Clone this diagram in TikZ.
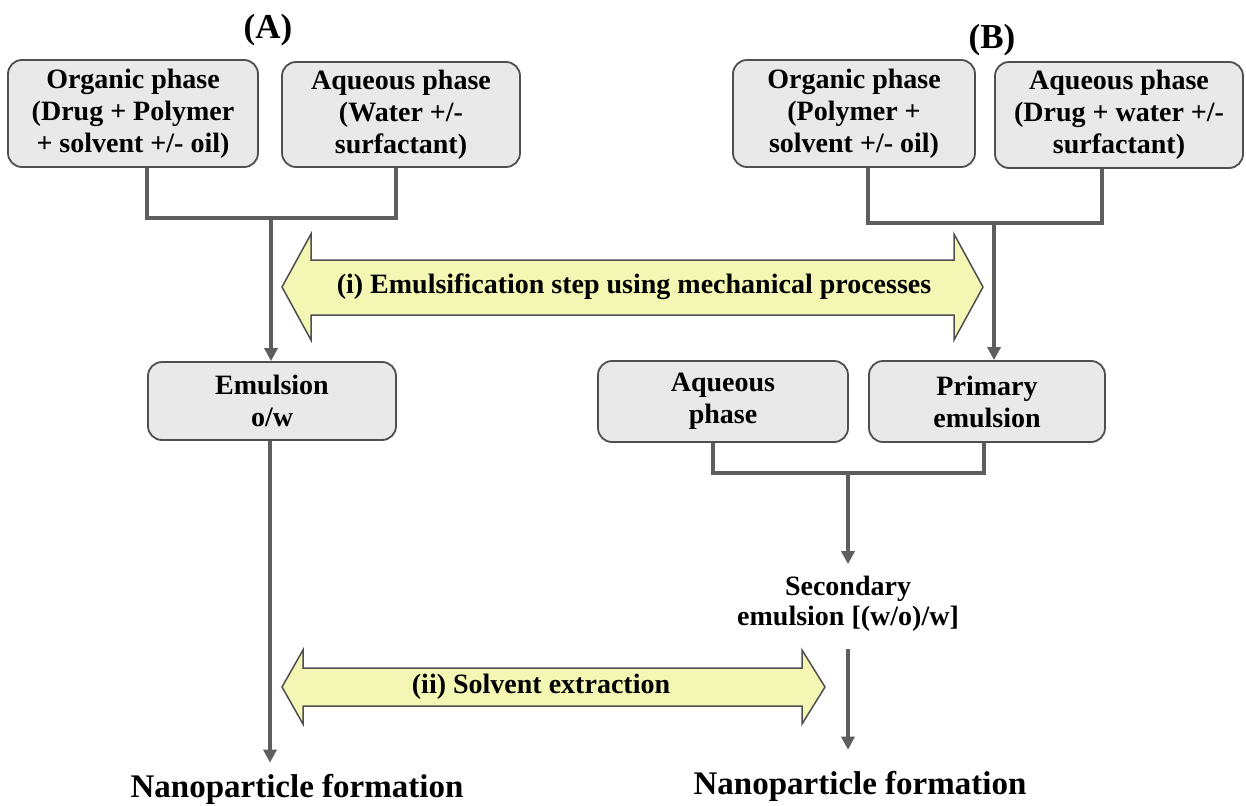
\documentclass[tikz,border=0pt]{standalone}
\usepackage{fontspec}
\setmainfont{Liberation Serif}
\usetikzlibrary{arrows.meta}
\definecolor{boxfill}{HTML}{E9E9E9}
\definecolor{boxline}{HTML}{4F4F4F}
\definecolor{connc}{HTML}{5E5E5E}
\definecolor{yfill}{HTML}{F4F7B4}
\tikzset{
  box/.style={draw=boxline, fill=boxfill, rounded corners=14pt, line width=1.8pt,
    align=center, inner sep=0pt, font=\bfseries\fontsize{28}{32}\selectfont},
  conn/.style={draw=connc, line width=3.2pt},
  arr/.style={-{Triangle[length=13pt,width=13pt]}},
  yarrow/.style={draw=boxline, fill=yfill, line width=1.5pt, line join=miter},
  lbl/.style={align=center, inner sep=3pt, font=\bfseries\fontsize{28}{30}\selectfont},
  title/.style={inner sep=2pt, font=\bfseries\fontsize{35}{40}\selectfont},
  nano/.style={inner sep=3pt, font=\bfseries\fontsize{33}{38}\selectfont}
}
\begin{document}
\begin{tikzpicture}[x=1pt,y=-1pt]
\useasboundingbox (0,0) rectangle (1246,805);
\fill[white] (0,0) rectangle (1246,805);

% titles
\node[title] (tA) at (268,30) {(A)};
\node[title] (tB) at (992,40) {(B)};

% top boxes
\node[box, minimum width=250pt, minimum height=107pt] (A1) at (133,113.5)
  {Organic phase\\(Drug + Polymer\\+ solvent +/- oil)};
\node[box, minimum width=238pt, minimum height=105pt] (A2) at (401,114.5)
  {Aqueous phase\\(Water +/-\\surfactant)};
\node[box, minimum width=242pt, minimum height=107pt] (B1) at (854,113.5)
  {Organic phase\\(Polymer +\\solvent +/- oil)};
\node[box, minimum width=248pt, minimum height=106pt] (B2) at (1119,115)
  {Aqueous phase\\(Drug + water +/-\\surfactant)};

% middle boxes
\node[box, minimum width=248pt, minimum height=78pt] (Em) at (272,401)
  {Emulsion\\o/w};
\node[box, minimum width=250pt, minimum height=81pt] (Aq) at (723,401.5)
  {Aqueous\\phase};
\node[box, minimum width=236pt, minimum height=81pt] (Pr) at (987,401.5)
  {Primary\\emulsion};

% double arrows
\draw[yarrow] (282,287) -- (311,234) -- (311,260) -- (954,260) -- (954,234)
  -- (983,287) -- (954,340) -- (954,315) -- (311,315) -- (311,340) -- cycle;
\node[lbl] (eA) at (634,287) {(i) Emulsification step using mechanical processes};

\draw[yarrow] (282,687) -- (303,650) -- (303,668) -- (802,668) -- (802,650)
  -- (825,687) -- (802,724) -- (802,706) -- (303,706) -- (303,724) -- cycle;
\node[lbl] (sE) at (541,687) {(ii) Solvent extraction};

% secondary emulsion and bottom labels
\node[lbl] (sec) at (848,604) {Secondary\\emulsion [(w/o)/w]};
\node[nano] (NL) at (297,789) {Nanoparticle formation};
\node[nano] (NR) at (860,786) {Nanoparticle formation};

% connectors A
\coordinate (jA) at (271,218);
\draw[conn] ([xshift=14pt]A1.south) |- (jA) -| ([xshift=-5pt]A2.south);
\draw[conn,arr] (jA) -- (jA |- Em.north);

% connectors B
\coordinate (jB) at (994,223);
\draw[conn] ([xshift=14pt]B1.south) |- (jB) -| ([xshift=-17pt]B2.south);
\draw[conn,arr] (jB) -- (jB |- Pr.north);

% connectors middle
\coordinate (jM) at (848,473);
\draw[conn] ([xshift=-10pt]Aq.south) |- (jM) -| ([xshift=-3pt]Pr.south);
\draw[conn,arr] (jM) -- ([yshift=9pt]sec.north);

% lower arrows
\draw[conn,arr] ([xshift=-2pt]Em.south) -- ([xshift=-2pt,yshift=8pt]Em.south |- NL.north);
\draw[conn,arr] ([yshift=-14pt]sec.south) -- ([yshift=18pt]sec.south |- NR.north);
\end{tikzpicture}
\end{document}
